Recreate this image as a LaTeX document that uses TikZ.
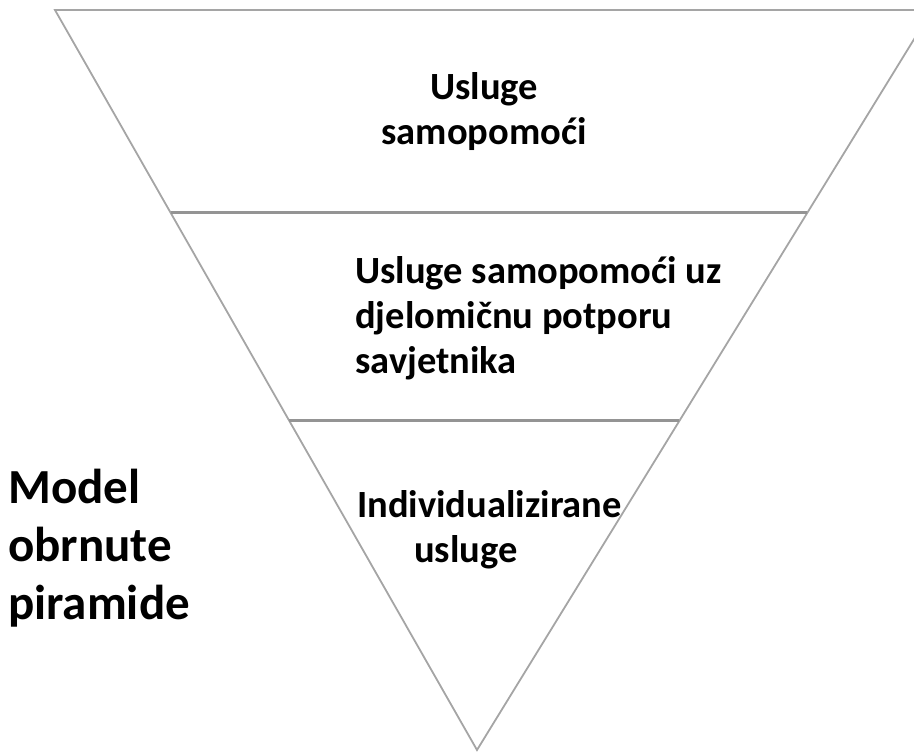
\documentclass[tikz,border=0pt]{standalone}
\usepackage{fontspec}
\setmainfont{Carlito}
\usetikzlibrary{calc, positioning}
\definecolor{edgecolor}{RGB}{165,165,165}
\begin{document}
\begin{tikzpicture}[
    x=1pt, y=-1pt,
    side/.style={draw=edgecolor, line width=1.8pt},
    band/.style={draw=edgecolor!90!black, line width=2.6pt},
    label/.style={inner sep=0pt, font=\bfseries\fontsize{38.5}{45}\selectfont, text=black}
]
    \useasboundingbox (0,0) rectangle (914,753);

    \coordinate (topleft) at (55,10);
    \coordinate (topright) at (932,10);
    \coordinate (apex) at (477,750);

    \draw[side] (topright) -- (topleft) -- (apex) -- cycle;

    \coordinate (l1) at ($(topleft)!0.274!(apex)$);
    \coordinate (r1) at ($(topright)!0.274!(apex)$);
    \coordinate (l2) at ($(topleft)!0.555!(apex)$);
    \coordinate (r2) at ($(topright)!0.555!(apex)$);
    \draw[band] (l1) -- (r1);
    \draw[band] (l2) -- (r2);

    \node[label, align=center] (self) at (484,112) {Usluge\\samopomoći};
    \node[label, align=left, anchor=west] (partial) at (355,318) {Usluge samopomoći uz\\djelomičnu potporu\\savjetnika};
    \node[label, align=left, anchor=west] (individual) at (357,530) {Individualizirane\\\hspace*{57pt}usluge};
    \node[label, align=left, anchor=west, font=\bfseries\fontsize{49}{58}\selectfont] (model) at (8,548) {Model\\obrnute\\piramide};
\end{tikzpicture}
\end{document}
